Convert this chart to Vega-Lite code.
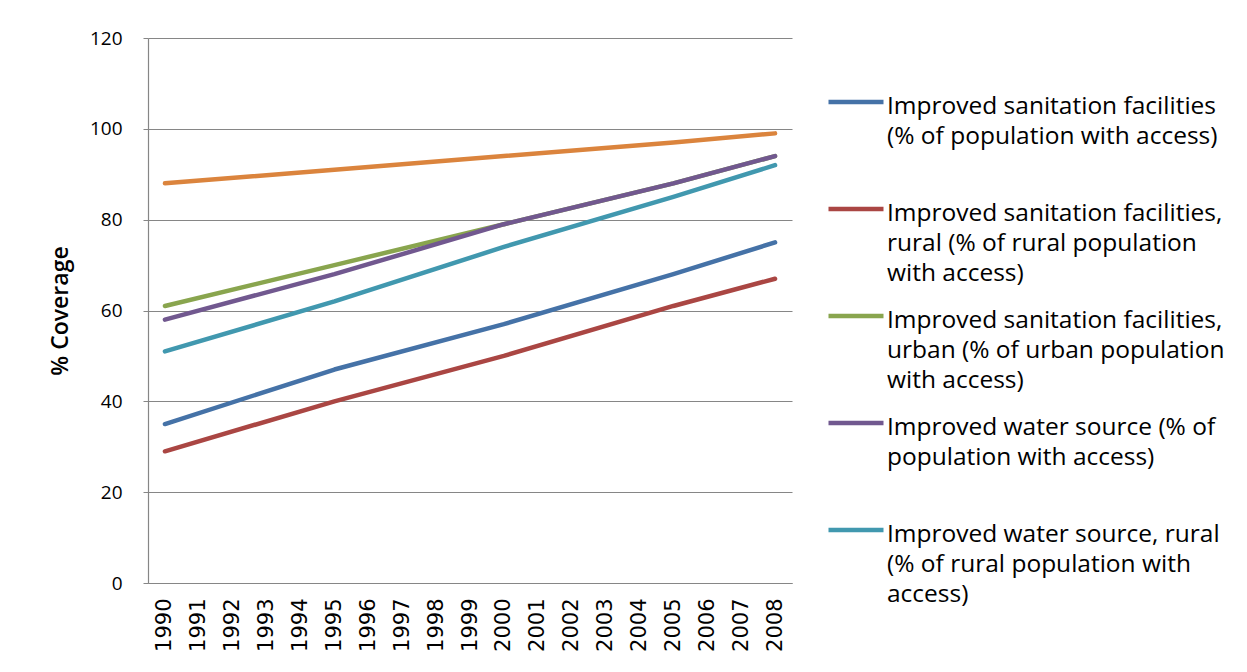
{
  "$schema": "https://vega.github.io/schema/vega-lite/v6.json",
  "autosize": "none",
  "width": 644,
  "height": 545,
  "padding": {"left": 148, "top": 38, "right": 455, "bottom": 89},
  "background": "white",
  "config": {
    "view": {"stroke": null},
    "axis": {"domainColor": "#868686", "gridColor": "#868686", "tickColor": "#868686", "labelColor": "#000000", "titleColor": "#000000"}
  },
  "data": {
    "values": [
      {"series": "Improved sanitation facilities (% of population with access)", "year": "1990", "value": 35},
      {"series": "Improved sanitation facilities (% of population with access)", "year": "1995", "value": 47},
      {"series": "Improved sanitation facilities (% of population with access)", "year": "2000", "value": 57},
      {"series": "Improved sanitation facilities (% of population with access)", "year": "2005", "value": 68},
      {"series": "Improved sanitation facilities (% of population with access)", "year": "2008", "value": 75},
      {"series": "Improved sanitation facilities, rural (% of rural population with access)", "year": "1990", "value": 29},
      {"series": "Improved sanitation facilities, rural (% of rural population with access)", "year": "1995", "value": 40},
      {"series": "Improved sanitation facilities, rural (% of rural population with access)", "year": "2000", "value": 50},
      {"series": "Improved sanitation facilities, rural (% of rural population with access)", "year": "2005", "value": 61},
      {"series": "Improved sanitation facilities, rural (% of rural population with access)", "year": "2008", "value": 67},
      {"series": "Improved sanitation facilities, urban (% of urban population with access)", "year": "1990", "value": 61},
      {"series": "Improved sanitation facilities, urban (% of urban population with access)", "year": "1995", "value": 70},
      {"series": "Improved sanitation facilities, urban (% of urban population with access)", "year": "2000", "value": 79},
      {"series": "Improved sanitation facilities, urban (% of urban population with access)", "year": "2005", "value": 88},
      {"series": "Improved sanitation facilities, urban (% of urban population with access)", "year": "2008", "value": 94},
      {"series": "Improved water source (% of population with access)", "year": "1990", "value": 58},
      {"series": "Improved water source (% of population with access)", "year": "1995", "value": 68},
      {"series": "Improved water source (% of population with access)", "year": "2000", "value": 79},
      {"series": "Improved water source (% of population with access)", "year": "2005", "value": 88},
      {"series": "Improved water source (% of population with access)", "year": "2008", "value": 94},
      {"series": "Improved water source, rural (% of rural population with access)", "year": "1990", "value": 51},
      {"series": "Improved water source, rural (% of rural population with access)", "year": "1995", "value": 62},
      {"series": "Improved water source, rural (% of rural population with access)", "year": "2000", "value": 74},
      {"series": "Improved water source, rural (% of rural population with access)", "year": "2005", "value": 85},
      {"series": "Improved water source, rural (% of rural population with access)", "year": "2008", "value": 92},
      {"series": "Improved water source, urban (% of urban population with access)", "year": "1990", "value": 88},
      {"series": "Improved water source, urban (% of urban population with access)", "year": "1995", "value": 91},
      {"series": "Improved water source, urban (% of urban population with access)", "year": "2000", "value": 94},
      {"series": "Improved water source, urban (% of urban population with access)", "year": "2005", "value": 97},
      {"series": "Improved water source, urban (% of urban population with access)", "year": "2008", "value": 99}
    ]
  },
  "mark": {"type": "line", "strokeWidth": 4.5, "strokeCap": "round", "strokeJoin": "round"},
  "encoding": {
    "x": {
      "field": "year",
      "type": "ordinal",
      "scale": {"type": "point", "padding": 0.5, "domain": ["1990","1991","1992","1993","1994","1995","1996","1997","1998","1999","2000","2001","2002","2003","2004","2005","2006","2007","2008"]},
      "axis": {"title": null, "labelAngle": -90, "ticks": false, "tickSize": 0, "labelPadding": 15, "labelFont": "DejaVu Sans", "labelFontSize": 21, "grid": false, "domainWidth": 1.2}
    },
    "y": {
      "field": "value",
      "type": "quantitative",
      "scale": {"domain": [0, 120], "nice": false, "zero": true},
      "axis": {"values": [0, 20, 40, 60, 80, 100, 120], "grid": true, "gridWidth": 1.2, "tickSize": 5, "labelPadding": 21, "labelFont": "Open Sans", "labelFontSize": 19, "title": "% Coverage", "titleFont": "Open Sans", "titleFontWeight": 600, "titleFontSize": 23, "titleX": -76, "titleBaseline": "bottom", "domainWidth": 1.2}
    },
    "color": {
      "field": "series",
      "type": "nominal",
      "sort": null,
      "scale": {
        "domain": [
          "Improved sanitation facilities (% of population with access)",
          "Improved sanitation facilities, rural (% of rural population with access)",
          "Improved sanitation facilities, urban (% of urban population with access)",
          "Improved water source (% of population with access)",
          "Improved water source, rural (% of rural population with access)",
          "Improved water source, urban (% of urban population with access)"
        ],
        "range": ["#4572A7", "#AA4643", "#89A54E", "#71588F", "#4198AF", "#DB843D"]
      },
      "legend": {
        "orient": "none",
        "legendX": 678,
        "legendY": 34,
        "title": null,
        "direction": "vertical",
        "values": [
          "Improved sanitation facilities (% of population with access)",
          "Improved sanitation facilities, rural (% of rural population with access)",
          "Improved sanitation facilities, urban (% of urban population with access)",
          "Improved water source (% of population with access)",
          "Improved water source, rural (% of rural population with access)"
        ],
        "symbolType": "stroke",
        "symbolSize": 3025,
        "symbolStrokeWidth": 4.5,
        "labelOffset": 1,
        "labelFont": "Open Sans",
        "labelFontSize": 24.5,
        "labelColor": "#000000",
        "labelLimit": 440,
        "labelBaseline": "alphabetic",
        "rowPadding": 0,
        "encode": {"labels": {"update": {"lineHeight": {"value": 30}, "dy": {"value": 12}}}},
        "labelExpr": "datum.label == 'Improved sanitation facilities (% of population with access)' ? ['Improved sanitation facilities', '(% of population with access)', ' '] : datum.label == 'Improved sanitation facilities, rural (% of rural population with access)' ? ['Improved sanitation facilities,', 'rural (% of rural population', 'with access)'] : datum.label == 'Improved sanitation facilities, urban (% of urban population with access)' ? ['Improved sanitation facilities,', 'urban (% of urban population', 'with access)'] : datum.label == 'Improved water source (% of population with access)' ? ['Improved water source (% of', 'population with access)', ' '] : ['Improved water source, rural', '(% of rural population with', 'access)']"
      }
    }
  }
}
